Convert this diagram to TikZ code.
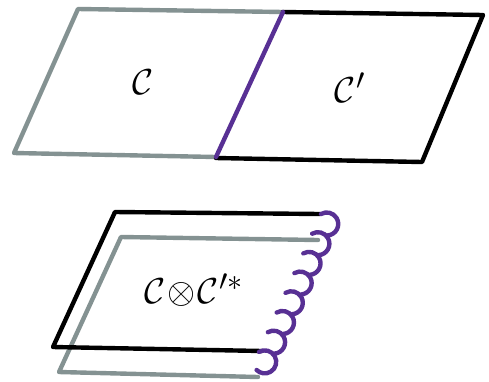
\documentclass[tikz,border=0pt]{standalone}
\definecolor{edgegray}{RGB}{132,146,146}
\definecolor{seampurple}{RGB}{88,48,148}
\tikzset{edge/.style={line width=4.4pt, line cap=round, line join=round},
  greyedge/.style={edge, draw=edgegray},
  blackedge/.style={edge, draw=black},
  seam/.style={edge, draw=seampurple},
  lbl/.style={font=\Huge, scale=1.45, transform shape}}

\begin{document}
\begin{tikzpicture}[x=1pt, y=-1pt]
  \useasboundingbox (0,0) rectangle (489,381);
  % top: C glued to C' along one edge
  \draw[greyedge] (216,157) -- (14,153) -- (78,9) -- (283,12);
  \draw[blackedge] (283,12) -- (483,15) -- (422,162) -- (216,158);
  \draw[seam] (283,12) -- (216,157);
  \node[lbl] (catC) at (143,82) {$\mathcal{C}$};
  \node[lbl] (catCp) at (350,88) {$\mathcal{C}'$};
  % bottom: folded sheet C (x) C'*
  \draw[greyedge] (318,240) -- (121,237) -- (59,372) -- (258,377);
  \draw[blackedge] (320,214) -- (115,212) -- (53,347) -- (262,351);
  \foreach \i in {0,...,7}{
    \pgfmathsetmacro\endang{\i==7 ? 495 : 445}
    \draw[seam] ({321-8.86*\i},{214+19.7*\i}) arc[start angle=240, end angle=\endang, radius=11.5];
  }
  \node[lbl] (prod) at (194,290) {$\mathcal{C}\!\otimes\!\mathcal{C}'^{*}$};
\end{tikzpicture}
\end{document}
